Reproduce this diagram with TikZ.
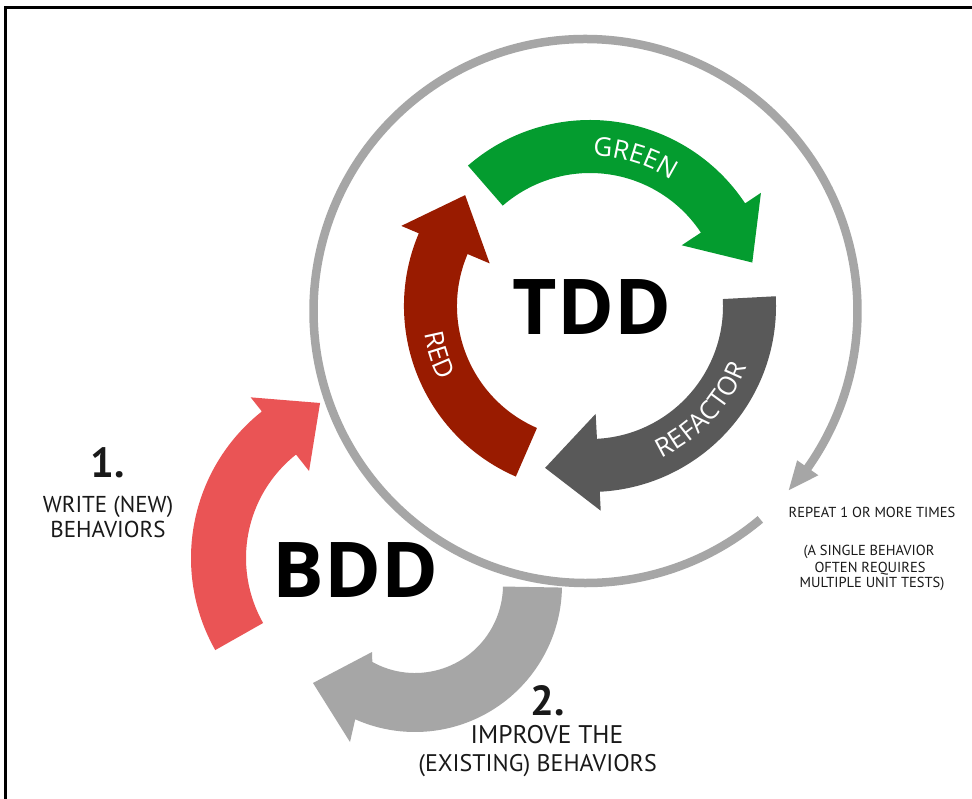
\documentclass[tikz,border=0pt]{standalone}
\usepackage{fontspec}
\usetikzlibrary{calc,decorations.text}
\newfontfamily\osans{Open Sans}
\newfontfamily\hand{PT Sans}
\definecolor{tddgreen}{HTML}{049C2F}
\definecolor{tddred}{HTML}{991B00}
\definecolor{tddgray}{HTML}{595959}
\definecolor{bddred}{HTML}{EA5455}
\definecolor{bddgray}{HTML}{A6A6A6}
\definecolor{circgray}{HTML}{A6A6A6}
\newcommand\lbltxt{\osans\fontsize{26}{26}\selectfont}
\tikzset{
  bigtxt/.style={inner sep=0pt,font=\osans\bfseries\fontsize{77}{77}\selectfont},
  handlbl/.style={inner sep=0pt,anchor=base,font=\hand\fontsize{23}{23}\selectfont,text=black!90},
  handnum/.style={inner sep=0pt,anchor=base,font=\hand\bfseries\fontsize{42}{42}\selectfont,text=black!90},
  handsmall/.style={inner sep=0pt,anchor=base,font=\hand\fontsize{14.5}{14.5}\selectfont,text=black!90},
  circline/.style={draw=circgray,line width=8.5pt},
  arclabel/.style={decorate,decoration={text along path,text align=center,text color=white,text={|\lbltxt|#1}}}
}
\begin{document}
\begin{tikzpicture}[x=1pt,y=1pt]
\useasboundingbox (0,0) rectangle (972,-799);
\fill[white] (0,0) rectangle (972,-799);
\draw[black,line width=3pt] (5,-799) -- (5,-8) -- (972,-8);

\coordinate (bc) at (585.5,-311);
\coordinate (tc) at (590,-306);
\coordinate (dc) at (378,-558);
\coordinate (gc) at (415,-585);

% big repeat circle
\draw[circline] ($(bc)+(-50:272)$) arc[start angle=-50,end angle=-395.5,radius=272];
\fill[circgray] ($(bc)+(-41.4:271)$) -- ($(bc)+(-35.2:285)$) -- ($(bc)+(-35.2:259)$) -- cycle;

% TDD green
\fill[tddgreen] ($(tc)+(131:186)$) arc[start angle=131,end angle=33.5,radius=186]
  -- ($(tc)+(33.5:205)$) -- ($(tc)+(15:168)$) -- ($(tc)+(33.5:110)$)
  -- ($(tc)+(33.5:133)$) arc[start angle=33.5,end angle=131,radius=133] -- cycle;
% TDD red
\fill[tddred] ($(tc)+(-113.5:186)$) arc[start angle=-113.5,end angle=-203,radius=186]
  -- ($(tc)+(-203:205)$) -- ($(tc)+(-221.6:167)$) -- ($(tc)+(-203:109)$)
  -- ($(tc)+(-203:133)$) arc[start angle=-203,end angle=-113.5,radius=133] -- cycle;
% TDD refactor
\fill[tddgray] ($(tc)+(3:186)$) arc[start angle=3,end angle=-87,radius=186]
  -- ($(tc)+(-87:205)$) -- ($(tc)+(-105.5:168)$) -- ($(tc)+(-87:108)$)
  -- ($(tc)+(-87:133)$) arc[start angle=-87,end angle=3,radius=133] -- cycle;

% BDD red
\fill[bddred] ($(dc)+(209.5:187)$) arc[start angle=209.5,end angle=128.4,radius=187]
  -- ($(dc)+(128.4:205)$) -- ($(dc)+(110.5:165.5)$) -- ($(dc)+(128.4:111)$)
  -- ($(dc)+(128.4:132)$) arc[start angle=128.4,end angle=209.5,radius=132] -- cycle;
% BDD gray
\fill[bddgray] ($(gc)+(-1:147)$) arc[start angle=-1,end angle=-114,radius=147]
  -- (350,-742) -- (313,-683) -- (372,-652)
  -- ($(gc)+(-119:88)$) arc[start angle=-119,end angle=-1,radius=88] -- cycle;

% curved labels
\path[arclabel=GREEN] ($(tc)+(100:150)$) arc[start angle=100,end angle=46,radius=150];
\path[arclabel=RED] ($(tc)+(180:168)$) arc[start angle=180,end angle=216,radius=168];
\path[arclabel=REFACTOR] ($(tc)+(-72:168)$) arc[start angle=-72,end angle=-14,radius=168];

\node[bigtxt] (tdd) at (592,-307) {TDD};
\node[bigtxt] (bdd) at (355.5,-570.5) {BDD};

\node[handnum] (one) at (108,-477) {1.};
\node[handlbl] (w1) at (108,-512) {WRITE (NEW)};
\node[handlbl] (w2) at (108,-537) {BEHAVIORS};

\node[handnum] (two) at (548,-715) {2.};
\node[handlbl,font=\hand\fontsize{25.5}{25.5}\selectfont] (i1) at (547,-743) {IMPROVE THE};
\node[handlbl,font=\hand\fontsize{24}{24}\selectfont] (i2) at (537.5,-771) {(EXISTING) BEHAVIORS};

\node[handsmall] (r1) at (872,-517) {REPEAT 1 OR MORE TIMES};
\node[handsmall] (r2) at (869,-555) {(A SINGLE BEHAVIOR};
\node[handsmall] (r3) at (870,-572) {OFTEN REQUIRES};
\node[handsmall] (r4) at (872,-587) {MULTIPLE UNIT TESTS)};
\end{tikzpicture}
\end{document}
